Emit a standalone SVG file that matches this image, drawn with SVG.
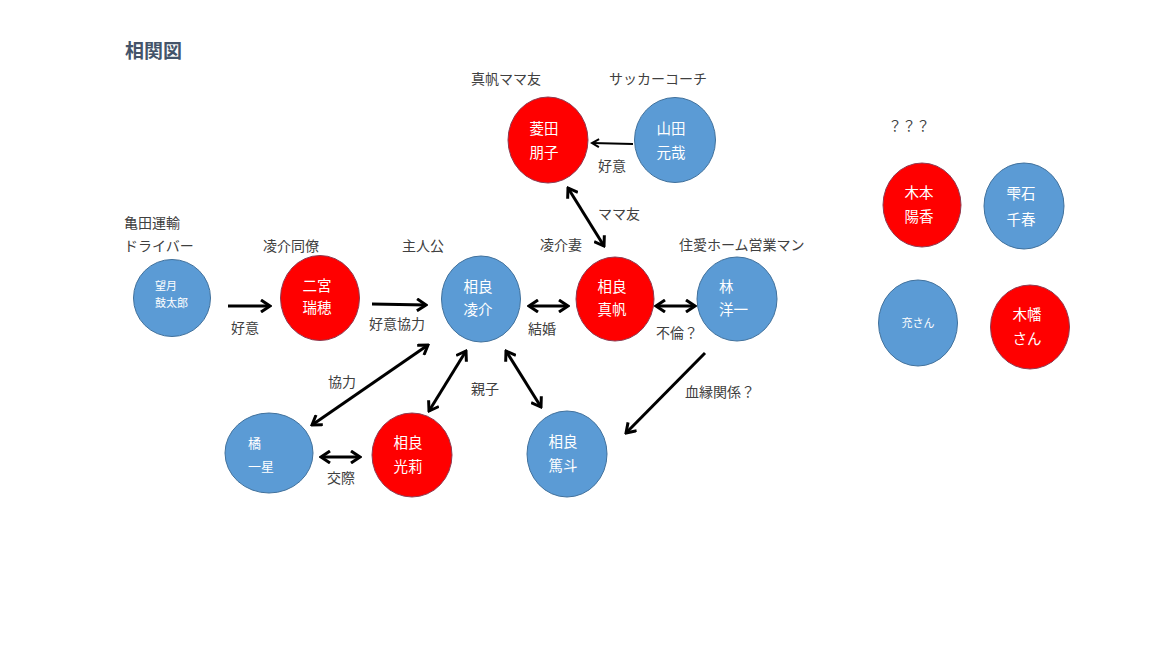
<svg xmlns="http://www.w3.org/2000/svg" width="1152" height="648" viewBox="0 0 1152 648">
<style>
text{font-family:"Noto Sans CJK JP","Noto Sans",sans-serif}
.lbl{font-size:14px;fill:#404040}
.nm{font-size:14.5px;fill:#ffffff;text-anchor:middle}
.nl{font-size:14.5px;fill:#ffffff}
.sm{font-size:11px;fill:#ffffff}
.b{fill:#5B9BD5;stroke:#41719C;stroke-width:1}
.r{fill:#FF0000;stroke:#8E3A50;stroke-width:1}
.c{stroke:#000;stroke-width:3;fill:none}
</style>
<defs>
<marker id="ah" viewBox="0 0 12 14" refX="10" refY="7" markerWidth="12" markerHeight="14" markerUnits="userSpaceOnUse" orient="auto-start-reverse">
<path d="M1,1 L10,7 L1,13" fill="none" stroke="#000" stroke-width="3"/>
</marker>
<marker id="ahs" viewBox="0 0 10 10" refX="8" refY="5" markerWidth="10" markerHeight="10" markerUnits="userSpaceOnUse" orient="auto">
<path d="M1,1 L8,5 L1,9" fill="none" stroke="#000" stroke-width="2"/>
</marker>
</defs>
<rect width="1152" height="648" fill="#fff"/>
<text x="125" y="58" style="font-size:19px;font-weight:bold;fill:#44546A">相関図</text>
<g id="labels">
<text class="lbl" x="471" y="84">真帆ママ友</text>
<text class="lbl" x="609" y="84">サッカーコーチ</text>
<text class="lbl" x="124" y="228">亀田運輸</text>
<text class="lbl" x="124" y="251">ドライバー</text>
<text class="lbl" x="263" y="251">凌介同僚</text>
<text class="lbl" x="402" y="251">主人公</text>
<text class="lbl" x="540" y="250">凌介妻</text>
<text class="lbl" x="679" y="250">住愛ホーム営業マン</text>
<text class="lbl" x="888" y="131">？？？</text>
</g>
<g id="connectors">
<line class="c" x1="228" y1="306" x2="270" y2="306" marker-end="url(#ah)"/>
<line class="c" x1="372" y1="304" x2="426" y2="305" marker-end="url(#ah)"/>
<line class="c" x1="529" y1="306" x2="568" y2="306" marker-start="url(#ah)" marker-end="url(#ah)"/>
<line class="c" x1="656" y1="306" x2="695" y2="306" marker-start="url(#ah)" marker-end="url(#ah)"/>
<line x1="633" y1="144" x2="592" y2="143" stroke="#000" stroke-width="2" marker-end="url(#ahs)"/>
<line class="c" x1="568" y1="188" x2="604" y2="246" marker-start="url(#ah)" marker-end="url(#ah)"/>
<line class="c" x1="428" y1="345" x2="312" y2="425" marker-start="url(#ah)" marker-end="url(#ah)"/>
<line class="c" x1="466" y1="351" x2="429" y2="411" marker-start="url(#ah)" marker-end="url(#ah)"/>
<line class="c" x1="506" y1="351" x2="541" y2="407" marker-start="url(#ah)" marker-end="url(#ah)"/>
<line class="c" x1="705" y1="353" x2="626" y2="433" marker-end="url(#ah)"/>
<line class="c" x1="321" y1="457" x2="360" y2="457" marker-start="url(#ah)" marker-end="url(#ah)"/>
<text class="lbl" x="231" y="333">好意</text>
<text class="lbl" x="369" y="329">好意協力</text>
<text class="lbl" x="528" y="334">結婚</text>
<text class="lbl" x="656" y="338">不倫？</text>
<text class="lbl" x="598" y="171">好意</text>
<text class="lbl" x="598" y="219">ママ友</text>
<text class="lbl" x="328" y="387">協力</text>
<text class="lbl" x="471" y="394">親子</text>
<text class="lbl" x="327" y="483">交際</text>
<text class="lbl" x="685" y="397">血縁関係？</text>
</g>
<g id="n-mochizuki">
<ellipse class="b" cx="172" cy="298" rx="38.5" ry="38.5"/>
<text class="sm" x="155" y="290">望月</text>
<text class="sm" x="155" y="307">鼓太郎</text>
</g>
<g id="n-ninomiya">
<ellipse class="r" cx="320" cy="298" rx="39.5" ry="42.5"/>
<text class="nm" x="317" y="291">二宮</text>
<text class="nm" x="317" y="313">瑞穂</text>
</g>
<g id="n-ryosuke">
<ellipse class="b" cx="481" cy="299" rx="39.5" ry="43"/>
<text class="nm" x="478" y="292">相良</text>
<text class="nm" x="478" y="315">凌介</text>
</g>
<g id="n-maho">
<ellipse class="r" cx="615" cy="299" rx="39" ry="42"/>
<text class="nm" x="612" y="292">相良</text>
<text class="nm" x="612" y="315">真帆</text>
</g>
<g id="n-hayashi">
<ellipse class="b" cx="737" cy="299" rx="40" ry="42"/>
<text class="nl" x="719" y="292">林</text>
<text class="nl" x="719" y="315">洋一</text>
</g>
<g id="n-hishida">
<ellipse class="r" cx="548" cy="140" rx="40" ry="43"/>
<text class="nm" x="544" y="134">菱田</text>
<text class="nm" x="544" y="158">朋子</text>
</g>
<g id="n-yamada">
<ellipse class="b" cx="675" cy="140" rx="40.5" ry="42.5"/>
<text class="nm" x="671" y="134">山田</text>
<text class="nm" x="671" y="158">元哉</text>
</g>
<g id="n-tachibana">
<ellipse class="b" cx="269" cy="453" rx="44" ry="40"/>
<text x="248" y="448" style="font-size:13px;fill:#fff">橘</text>
<text x="248" y="471" style="font-size:13px;fill:#fff">一星</text>
</g>
<g id="n-hikari">
<ellipse class="r" cx="412" cy="455" rx="40" ry="42"/>
<text class="nm" x="408" y="448">相良</text>
<text class="nm" x="408" y="472">光莉</text>
</g>
<g id="n-atsuto">
<ellipse class="b" cx="567" cy="454" rx="40" ry="43"/>
<text class="nm" x="563" y="447">相良</text>
<text class="nm" x="563" y="471">篤斗</text>
</g>
<g id="n-kimoto">
<ellipse class="r" cx="922" cy="205" rx="39" ry="42"/>
<text class="nm" x="919" y="198">木本</text>
<text class="nm" x="919" y="222">陽香</text>
</g>
<g id="n-shizukuishi">
<ellipse class="b" cx="1024" cy="206" rx="40" ry="43"/>
<text class="nm" x="1021" y="199">雫石</text>
<text class="nm" x="1021" y="225">千春</text>
</g>
<g id="n-mitsuru">
<ellipse class="b" cx="918" cy="323" rx="39.5" ry="43"/>
<text class="sm" x="918" y="327" text-anchor="middle">充さん</text>
</g>
<g id="n-kowata">
<ellipse class="r" cx="1030" cy="327" rx="39.5" ry="42"/>
<text class="nm" x="1027" y="320">木幡</text>
<text class="nm" x="1027" y="344">さん</text>
</g>
</svg>
